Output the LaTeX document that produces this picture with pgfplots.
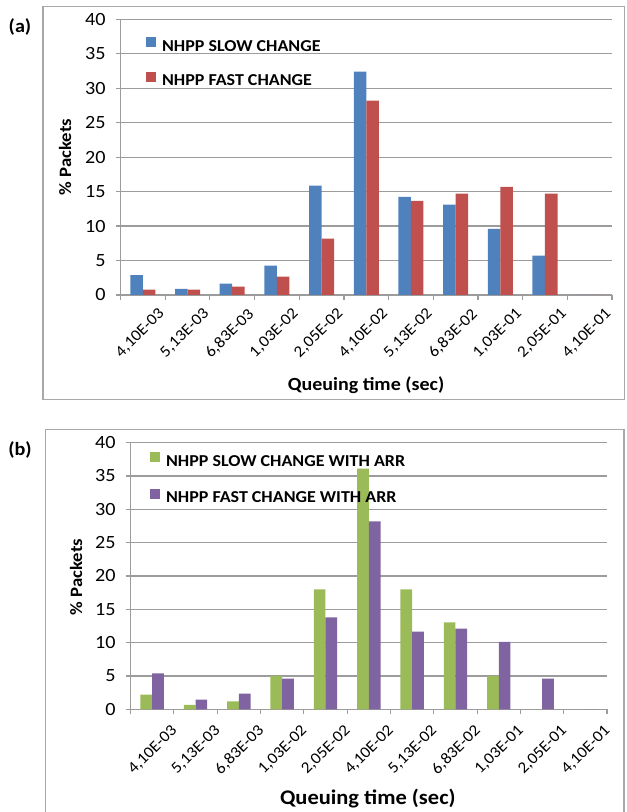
\documentclass[border=0pt]{standalone}
\usepackage{fontspec}
\setmainfont{Carlito}[FakeStretch=1.08]
\usepackage{pgfplots}
\pgfplotsset{compat=1.18}

\definecolor{xlblue}{HTML}{4F81BD}
\definecolor{xlred}{HTML}{C0504D}
\definecolor{xlgreen}{HTML}{9BBB59}
\definecolor{xlpurple}{HTML}{8064A2}
\definecolor{gridgray}{HTML}{9C9C9C}
\definecolor{framegray}{HTML}{A8A8A8}

\pgfplotsset{
  queuebars/.style={
    scale only axis,
    ymin=0, ymax=40, ytick={0,5,...,40},
    xmin=-0.5, xmax=10.5,
    axis lines=left,
    axis line style={-, draw=gridgray, line width=0.9pt},
    tick style={draw=gridgray, line width=0.9pt},
    major tick length=3.75pt,
    tick align=outside,
    ymajorgrids,
    major grid style={draw=gridgray, line width=0.9pt},
    /pgf/number format/assume math mode=true,
    yticklabel style={font=\fontsize{14}{16}\selectfont, xshift=-4pt},
    xtick={-0.5,0.5,...,10.5},
    xticklabels={},
    extra x ticks={0,1,2,3,4,5,6,7,8,9,10},
    extra x tick labels={{4,10E-03},{5,13E-03},{6,83E-03},{1,03E-02},{2,05E-02},
      {4,10E-02},{5,13E-02},{6,83E-02},{1,03E-01},{2,05E-01},{4,10E-01}},
    ybar, bar width=0.28,
    legend cell align=left,
    legend image code/.code={\fill[#1] (0pt,-0.3pt) rectangle (7.5pt,7.2pt);},
    clip=false,
  },
}

\begin{document}
\begin{tikzpicture}
\useasboundingbox (0pt,0pt) rectangle (469.5pt,609pt);

% chart area borders
\draw[framegray, line width=0.8pt] (32.25pt,309.5pt) rectangle (468.4pt,604.3pt);
\draw[framegray, line width=0.8pt] (34.3pt,-5pt) rectangle (468pt,287pt);
\node[font=\bfseries\fontsize{14}{16}\selectfont] at (15pt,588.4pt) {(a)};
\node[font=\bfseries\fontsize{14}{16}\selectfont] at (15pt,271.5pt) {(b)};

% (a) without ARR
\begin{axis}[queuebars,
  at={(90.4pt,387.75pt)}, anchor=south west,
  width=368.6pt, height=206.8pt,
  extra x tick style={major tick length=0pt,
    xticklabel style={rotate=45, anchor=north east, inner sep=0pt,
      font=\fontsize{12}{14}\selectfont, xshift=1.5pt, yshift=-14pt}},
  xlabel={Queuing time (sec)},
  ylabel={\% Packets},
  xlabel style={at={(axis description cs:0.4995,-0.326)}, anchor=center,
    font=\bfseries\fontsize{13.9}{16}\selectfont},
  ylabel style={at={(axis description cs:-0.113,0.5)}, anchor=center,
    font=\bfseries\fontsize{13}{15}\selectfont},
  legend style={at={(axis description cs:0.052,0.936)}, anchor=north west,
    draw=none, fill=none, inner sep=0pt, row sep=14pt,
    nodes={inner sep=0pt}, column sep=4.3pt,
    font=\bfseries\fontsize{12.5}{14}\selectfont},
]
\addplot[fill=xlblue, draw=none, bar shift=-0.14] coordinates {
  (0,2.9) (1,0.87) (2,1.64) (3,4.25) (4,15.85) (5,32.4)
  (6,14.25) (7,13.1) (8,9.6) (9,5.7) (10,0)};
\addplot[fill=xlred, draw=none, bar shift=0.14] coordinates {
  (0,0.77) (1,0.77) (2,1.2) (3,2.66) (4,8.16) (5,28.2)
  (6,13.67) (7,14.7) (8,15.7) (9,14.7) (10,0)};
\legend{NHPP SLOW CHANGE, NHPP FAST CHANGE}
\end{axis}

% (b) with ARR
\begin{axis}[queuebars,
  at={(97.9pt,77pt)}, anchor=south west,
  width=357.4pt, height=200pt,
  bar width=0.27,
  extra x tick style={major tick length=0pt,
    xticklabel style={rotate=45, anchor=north east, inner sep=0pt,
      font=\fontsize{12}{14}\selectfont, xshift=2pt, yshift=-17pt}},
  xlabel={Queuing time (sec)},
  ylabel={\% Packets},
  xlabel style={at={(axis description cs:0.498,-0.333)}, anchor=center,
    font=\bfseries\fontsize{15.6}{18}\selectfont},
  ylabel style={at={(axis description cs:-0.114,0.496)}, anchor=center,
    font=\bfseries\fontsize{13}{15}\selectfont},
  legend style={at={(axis description cs:0.041,0.966)}, anchor=north west,
    draw=none, fill=none, inner sep=0pt, row sep=15.5pt,
    nodes={inner sep=0pt}, column sep=4.3pt,
    font=\bfseries\fontsize{12.5}{14}\selectfont},
]
\addplot[fill=xlgreen, draw=none, bar shift=-0.135] coordinates {
  (0,2.2) (1,0.65) (2,1.2) (3,5.0) (4,18.0) (5,36.1)
  (6,18.0) (7,13.05) (8,5.0) (9,0) (10,0)};
\addplot[fill=xlpurple, draw=none, bar shift=0.135] coordinates {
  (0,5.4) (1,1.45) (2,2.35) (3,4.6) (4,13.8) (5,28.2)
  (6,11.65) (7,12.1) (8,10.1) (9,4.6) (10,0)};
\legend{NHPP SLOW CHANGE WITH ARR, NHPP FAST CHANGE WITH ARR}
\end{axis}
\end{tikzpicture}
\end{document}
